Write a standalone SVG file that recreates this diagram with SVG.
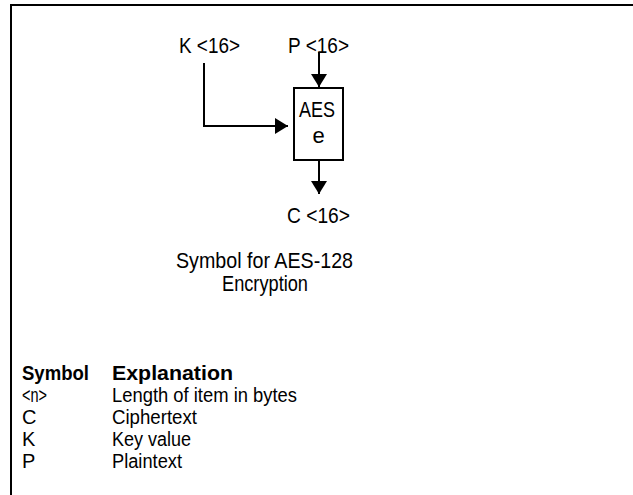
<svg xmlns="http://www.w3.org/2000/svg" width="633" height="495" viewBox="0 0 633 495">
<style>
text{font-family:"Liberation Sans",Arial,sans-serif;fill:#000;}
.lbl{font-size:22px;}
.leg{font-size:20px;}
.b{font-weight:bold;}
.ln{stroke:#000;stroke-width:2;fill:none;}
</style>
<defs>
<marker id="ah" markerWidth="14" markerHeight="16" refX="13" refY="8" orient="auto" markerUnits="userSpaceOnUse">
<path d="M0,0 L13,8 L0,16 Z" fill="#000"/>
</marker>
</defs>
<rect width="633" height="495" fill="#fff"/>
<path class="ln" d="M11,495 V5 H633"/>
<g id="connectors">
<path class="ln" d="M319,52 V87" marker-end="url(#ah)"/>
<path class="ln" d="M204,63 V126 H288" marker-end="url(#ah)"/>
<path class="ln" d="M319,161 V194" marker-end="url(#ah)"/>
</g>
<g id="node-K"><text class="lbl" x="179" y="53" textLength="61" lengthAdjust="spacingAndGlyphs">K &lt;16&gt;</text></g>
<g id="node-P"><text class="lbl" x="288" y="53" textLength="61" lengthAdjust="spacingAndGlyphs">P &lt;16&gt;</text></g>
<g id="node-AES">
<rect class="ln" x="294" y="88" width="49" height="72"/>
<text class="lbl" x="299" y="117" textLength="36" lengthAdjust="spacingAndGlyphs">AES</text>
<text class="lbl" x="318.5" y="143" text-anchor="middle">e</text>
</g>
<g id="node-C"><text class="lbl" x="287" y="223" textLength="63" lengthAdjust="spacingAndGlyphs">C &lt;16&gt;</text></g>
<g id="caption">
<text class="lbl" x="176" y="268" textLength="177" lengthAdjust="spacingAndGlyphs">Symbol for AES-128</text>
<text class="lbl" x="222" y="291" textLength="86" lengthAdjust="spacingAndGlyphs">Encryption</text>
</g>
<g id="legend">
<text class="leg b" x="22" y="380" textLength="67" lengthAdjust="spacingAndGlyphs">Symbol</text>
<text class="leg b" x="112" y="380" textLength="121" lengthAdjust="spacingAndGlyphs">Explanation</text>
<text class="leg" x="22" y="402" textLength="25" lengthAdjust="spacingAndGlyphs">&lt;n&gt;</text>
<text class="leg" x="112" y="402" textLength="185" lengthAdjust="spacingAndGlyphs">Length of item in bytes</text>
<text class="leg" x="22" y="424">C</text>
<text class="leg" x="112" y="424" textLength="85" lengthAdjust="spacingAndGlyphs">Ciphertext</text>
<text class="leg" x="22" y="446">K</text>
<text class="leg" x="112" y="446" textLength="79" lengthAdjust="spacingAndGlyphs">Key value</text>
<text class="leg" x="22" y="468">P</text>
<text class="leg" x="112" y="468" textLength="70" lengthAdjust="spacingAndGlyphs">Plaintext</text>
</g>
</svg>
